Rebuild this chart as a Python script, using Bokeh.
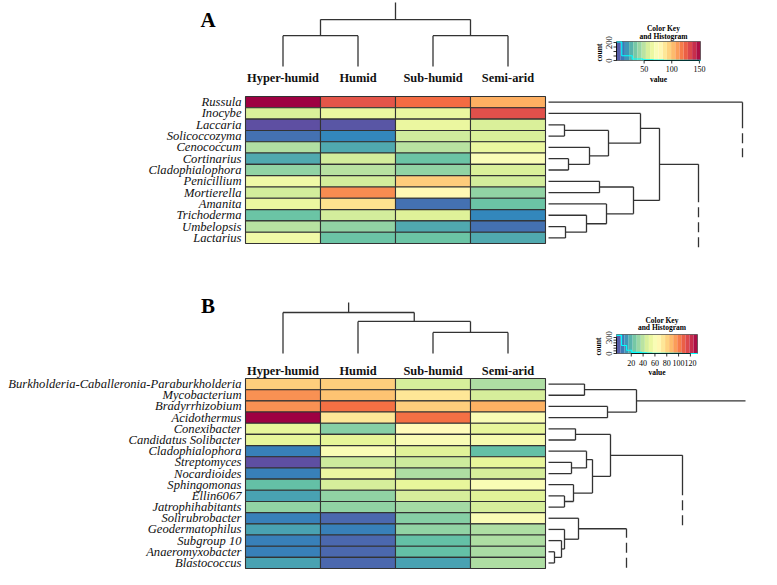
import numpy as np
from bokeh.plotting import figure
from bokeh.models import Range1d, LinearColorMapper, ColumnDataSource
from bokeh.layouts import column
from bokeh.transform import transform
from bokeh.embed import file_html
from bokeh.resources import INLINE
from bokeh.core.properties import value

# ---------------- data ----------------
conditions = ["Hyper-humid", "Humid", "Sub-humid", "Semi-arid"]

fungi_genera = ["Russula", "Inocybe", "Laccaria", "Solicoccozyma", "Cenococcum",
                "Cortinarius", "Cladophialophora", "Penicillium", "Mortierella",
                "Amanita", "Trichoderma", "Umbelopsis", "Lactarius"]
fungi_hyper_humid = [152, 58, 0, 9, 47, 24, 40, 67, 56, 64, 32, 49, 67]
fungi_humid = [129, 64, 2, 15, 24, 56, 49, 56, 114, 90, 56, 40, 32]
fungi_sub_humid = [122, 64, 64, 55, 49, 32, 40, 97, 79, 9, 59, 24, 32]
fungi_semi_arid = [106, 131, 58, 58, 64, 73, 58, 56, 40, 32, 15, 9, 24]
fungi_key_range = (0, 152)
fungi_key_ticks = [50, 100, 150]
fungi_hist_counts = [205, 52, 52, 17, 17, 8, 8, 5, 4, 3, 2, 2, 1, 1, 1, 1]
fungi_count_ticks = [0, 50, 100, 150, 200]
fungi_count_labels = [0, 200]
# row dendrogram merges (child a, child b, height); leaves = display rows
fungi_row_merges = [(2, 3, 1.6), (5, 6, 2.0), (4, 14, 4.1), (13, 15, 6.0),
                    (1, 16, 9.2), (7, 8, 5.1), (11, 12, 1.7), (10, 19, 3.8),
                    (9, 20, 5.8), (18, 21, 8.5), (17, 22, 11.1)]
fungi_row_tails = [(0, 19.4), (23, 15.0)]
fungi_col_merges = [(0, 1, 2.3), (2, 3, 2.3), (4, 5, 3.5)]

bacteria_genera = ["Burkholderia-Caballeronia-Paraburkholderia", "Mycobacterium",
                   "Bradyrrhizobium", "Acidothermus", "Conexibacter",
                   "Candidatus Solibacter", "Cladophialophora", "Streptomyces",
                   "Nocardioides", "Sphingomonas", "Ellin6067", "Jatrophihabitants",
                   "Solirubrobacter", "Geodermatophilus", "Subgroup 10",
                   "Anaeromyxobacter", "Blastococcus"]
bacteria_hyper_humid = [82, 97, 97, 132, 51, 51, 7, -5, 7, 22, 15, 31, 7, 15, 7, 7, 15]
bacteria_humid = [82, 85, 104, 74, 29, 50, 60, 44, 53, 46, 31, 31, 1, 7, 1, 1, 1]
bacteria_sub_humid = [46, 74, 82, 104, 65, 60, 49, 44, 37, 51, 46, 35, 29, 31, 22, 22, 15]
bacteria_semi_arid = [37, 46, 90, 60, 51, 58, 22, 51, 46, 60, 49, 46, 60, 37, 37, 36, 37]
bacteria_key_range = (-5, 132)
bacteria_key_ticks = [20, 40, 60, 80, 100, 120]
bacteria_hist_counts = [340, 150, 60, 22, 22, 12, 8, 6, 5, 4, 3, 2, 2, 1, 1, 1]
bacteria_count_ticks = [0, 50, 100, 150, 200, 250, 300]
bacteria_count_labels = [0, 300]
bacteria_row_merges = [(0, 1, 3.6), (2, 3, 5.9), (17, 18, 8.8), (4, 5, 2.7),
                       (7, 8, 2.3), (6, 21, 3.8), (10, 11, 1.6), (9, 23, 2.5),
                       (22, 24, 4.4), (20, 25, 6.2), (15, 16, 0.6), (14, 27, 1.3),
                       (13, 28, 1.6), (12, 29, 3.0)]
bacteria_row_tails = [(19, 19.7), (26, 13.4), (30, 7.8)]
bacteria_col_merges = [(2, 3, 1.57), (1, 4, 2.39), (0, 5, 3.06)]

# ---------------- style / layout ----------------
SERIF = "Liberation Serif"
LINE = "#333333"
SPECTRAL = ["#5E4FA2", "#3288BD", "#66C2A5", "#ABDDA4", "#E6F598", "#FFFFBF",
            "#FEE08B", "#FDAE61", "#F46D43", "#D53E4F", "#9E0142"]
FIG_W = 761
WIN_L, WIN_R = 0, 761
HM_LEFT, COL_W = 245, 75
RD_X0, RD_PX = 548, 10.0
CD_PX = 13.4
KEY_X0 = 616

GEOM_A = dict(top=0, bot=267, hm_top=96, row_h=11.31, col_leaf_y=66, stem_px=17,
              letter_x=207.5, letter_base=19.5, collab_base=77.5,
              key_x1=700, bar_top=41, bar_bot=60, count_px=0.09,
              title_y=(28, 36), tick_y=68, value_y=79, count_lab_x=608, count_title=(599, 52),
              tails=[(26, 5, 24), (38, 5, 41)])
GEOM_B = dict(top=267, bot=569, hm_top=378, row_h=11.18, col_leaf_y=353, stem_px=10,
              letter_x=207.5, letter_base=305, collab_base=370.5,
              key_x1=697, bar_top=334, bar_bot=353, count_px=16.0 / 300,
              title_y=(320, 327), tick_y=362, value_y=372, count_lab_x=608, count_title=(598, 346),
              tails=[(0, 0, 0), (40, 5, 25), (9, 5, 25)])


def lerp_palette(stops, n):
    rgb = np.array([[int(c[i:i + 2], 16) for i in (1, 3, 5)] for c in stops], float)
    pos = np.linspace(0, 1, len(stops))
    out = []
    for t in np.linspace(0, 1, n):
        r = [np.interp(t, pos, rgb[:, k]) for k in range(3)]
        out.append("#%02x%02x%02x" % tuple(int(round(v)) for v in r))
    return out


PALETTE = lerp_palette(SPECTRAL, 256)


def dendro(n, merges, leaf_pos):
    pos = list(leaf_pos)
    hgt = [0.0] * n
    h0, p0, h1, p1 = [], [], [], []
    for a, b, h in merges:
        for c in (a, b):
            h0.append(hgt[c]); p0.append(pos[c]); h1.append(h); p1.append(pos[c])
        h0.append(h); p0.append(pos[a]); h1.append(h); p1.append(pos[b])
        pos.append((pos[a] + pos[b]) / 2.0)
        hgt.append(h)
    return (h0, p0, h1, p1), pos, hgt


def panel(letter, genera, series, key_range, key_ticks, hist_counts, count_ticks,
          count_labels, row_merges, row_tails, col_merges, g):
    top, bot = g["top"], g["bot"]
    rh, hm_top = g["row_h"], g["hm_top"]
    lo, hi = key_range
    s = (g["key_x1"] - KEY_X0) / (hi - lo)
    cpx = g["count_px"]

    p = figure(width=FIG_W, height=bot - top,
               x_range=Range1d((WIN_L - HM_LEFT) / COL_W, (WIN_R - HM_LEFT) / COL_W),
               y_range=Range1d((bot - hm_top) / rh, (top - hm_top) / rh),
               output_backend="svg", toolbar_location=None, min_border=0,
               x_axis_location=None, y_axis_location=None)
    p.outline_line_color = None
    p.grid.grid_line_color = None
    p.background_fill_color = "white"
    p.border_fill_color = "white"
    p.extra_x_ranges = {
        "px": Range1d(WIN_L, WIN_R),
        "rdh": Range1d((WIN_L - RD_X0) / RD_PX, (WIN_R - RD_X0) / RD_PX),
        "kv": Range1d(lo + (WIN_L - KEY_X0) / s, lo + (WIN_R - KEY_X0) / s),
    }
    leaf_y = g["col_leaf_y"]
    p.extra_y_ranges = {
        "py": Range1d(bot, top),
        "cdh": Range1d((leaf_y - bot) / CD_PX, (leaf_y - top) / CD_PX),
        "kc": Range1d((g["bar_bot"] - bot) / cpx, (g["bar_bot"] - top) / cpx),
    }

    mapper = LinearColorMapper(palette=PALETTE, low=lo, high=hi)

    # heatmap cells
    n = len(genera)
    L, R, T, B, V = [], [], [], [], []
    for j, ser in enumerate(series):
        for i, v in enumerate(ser):
            L.append(j); R.append(j + 1); T.append(i); B.append(i + 1); V.append(v)
    src = ColumnDataSource(dict(l=L, r=R, t=T, b=B, v=V))
    p.quad(left="l", right="r", top="t", bottom="b", source=src,
           fill_color=transform("v", mapper), line_color=LINE, line_width=1.1)

    # row labels
    p.text(x=[0] * n, y=[i + 0.5 for i in range(n)], text=genera, x_offset=-4,
           text_align="right", text_baseline="middle", text_font=value(SERIF),
           text_font_style="italic", text_font_size="12.6px", text_color="#111111")
    # column labels
    p.text(x=[j + 0.5 for j in range(len(conditions))], y=[g["collab_base"]] * len(conditions),
           y_range_name="py", text=conditions, text_align="center",
           text_baseline="alphabetic", text_font=value(SERIF), text_font_style="bold",
           text_font_size="12.4px", text_color="#111111")
    # panel letter
    p.text(x=[g["letter_x"]], y=[g["letter_base"]], x_range_name="px", y_range_name="py",
           text=[letter], text_align="center", text_baseline="alphabetic",
           text_font=value(SERIF), text_font_style="bold", text_font_size="21px",
           text_color="black")

    # row dendrogram
    (h0, p0, h1, p1), pos, hgt = dendro(n, row_merges, [i + 0.5 for i in range(n)])
    p.segment(x0=h0, y0=p0, x1=h1, y1=p1, x_range_name="rdh", line_color=LINE, line_width=1.3)
    for (node, th), (solid, gap, dash) in zip(row_tails, g["tails"]):
        y = pos[node]
        p.segment(x0=[hgt[node]], y0=[y], x1=[th], y1=[y], x_range_name="rdh",
                  line_color=LINE, line_width=1.3)
        if solid > 0:
            p.segment(x0=[th], y0=[y], x1=[th], y1=[y + solid / rh], x_range_name="rdh",
                      line_color=LINE, line_width=1.3)
        if dash > 0:
            p.segment(x0=[th], y0=[y + (solid + gap) / rh], x1=[th],
                      y1=[y + (solid + gap + dash) / rh], x_range_name="rdh",
                      line_color=LINE, line_width=1.3, line_dash="10 5")

    # column dendrogram
    m = len(conditions)
    (h0, p0, h1, p1), cpos, chgt = dendro(m, col_merges, [j + 0.5 for j in range(m)])
    p.segment(x0=p0, y0=h0, x1=p1, y1=h1, y_range_name="cdh", line_color=LINE, line_width=1.3)
    root = len(cpos) - 1
    p.segment(x0=[cpos[root]], y0=[chgt[root]], x1=[cpos[root]],
              y1=[chgt[root] + g["stem_px"] / CD_PX], y_range_name="cdh",
              line_color=LINE, line_width=1.3)

    # colour key
    ctop = (g["bar_bot"] - g["bar_top"]) / cpx
    nb = 20
    edges = np.linspace(lo, hi, nb + 1)
    ksrc = ColumnDataSource(dict(l=edges[:-1], r=edges[1:], mid=(edges[:-1] + edges[1:]) / 2))
    p.quad(left="l", right="r", bottom=0, top=ctop, source=ksrc,
           fill_color=transform("mid", mapper), line_color=None,
           x_range_name="kv", y_range_name="kc")
    p.quad(left=[lo], right=[hi], bottom=[0], top=[ctop], fill_color=None,
           line_color="#444444", line_width=0.7, x_range_name="kv", y_range_name="kc")
    # histogram (step)
    hb = np.linspace(lo, hi, len(hist_counts) + 1)
    hx, hy = [], []
    for k, c in enumerate(hist_counts):
        hx += [hb[k], hb[k + 1]]
        hy += [c, c]
    p.line(hx, hy, x_range_name="kv", y_range_name="kc", line_color="cyan", line_width=1.1)
    # count axis
    tick_len = 3.0 / s
    p.segment(x0=[lo], y0=[count_ticks[0]], x1=[lo], y1=[count_ticks[-1]],
              x_range_name="kv", y_range_name="kc", line_color="black", line_width=0.8)
    p.segment(x0=[lo] * len(count_ticks), y0=count_ticks,
              x1=[lo - tick_len] * len(count_ticks), y1=count_ticks,
              x_range_name="kv", y_range_name="kc", line_color="black", line_width=0.8)
    p.text(x=[g["count_lab_x"]] * len(count_labels), y=count_labels,
           text=[str(c) for c in count_labels], x_range_name="px", y_range_name="kc",
           angle=np.pi / 2, text_align="center", text_baseline="middle",
           text_font=value(SERIF), text_font_size="8.5px", text_color="black")
    p.text(x=[g["count_title"][0]], y=[g["count_title"][1]], text=["count"],
           x_range_name="px", y_range_name="py", angle=np.pi / 2, text_align="center",
           text_baseline="middle", text_font=value(SERIF), text_font_style="bold",
           text_font_size="7.5px", text_color="black")
    # value axis
    vt = key_ticks
    p.segment(x0=[vt[0]], y0=[g["bar_bot"]], x1=[vt[-1]], y1=[g["bar_bot"]],
              x_range_name="kv", y_range_name="py", line_color="black", line_width=0.8)
    p.segment(x0=vt, y0=[g["bar_bot"]] * len(vt), x1=vt, y1=[g["bar_bot"] + 3] * len(vt),
              x_range_name="kv", y_range_name="py", line_color="black", line_width=0.8)
    p.text(x=vt, y=[g["tick_y"]] * len(vt), text=[str(v) for v in vt],
           x_range_name="kv", y_range_name="py", text_align="center", text_baseline="middle",
           text_font=value(SERIF), text_font_size="8px", text_color="black")
    kmid = (lo + hi) / 2.0
    p.text(x=[kmid], y=[g["value_y"]], text=["value"], x_range_name="kv", y_range_name="py",
           text_align="center", text_baseline="middle", text_font=value(SERIF),
           text_font_style="bold", text_font_size="7.5px", text_color="black")
    p.text(x=[kmid, kmid], y=list(g["title_y"]), text=["Color Key", "and Histogram"],
           x_offset=5, x_range_name="kv", y_range_name="py", text_align="center",
           text_baseline="middle", text_font=value(SERIF), text_font_style="bold",
           text_font_size="7.5px", text_color="black")
    return p


pA = panel("A", fungi_genera,
           [fungi_hyper_humid, fungi_humid, fungi_sub_humid, fungi_semi_arid],
           fungi_key_range, fungi_key_ticks, fungi_hist_counts, fungi_count_ticks,
           fungi_count_labels, fungi_row_merges, fungi_row_tails, fungi_col_merges, GEOM_A)
pB = panel("B", bacteria_genera,
           [bacteria_hyper_humid, bacteria_humid, bacteria_sub_humid, bacteria_semi_arid],
           bacteria_key_range, bacteria_key_ticks, bacteria_hist_counts, bacteria_count_ticks,
           bacteria_count_labels, bacteria_row_merges, bacteria_row_tails, bacteria_col_merges, GEOM_B)

layout = column(pA, pB, spacing=0)
open("out.html", "w").write(file_html(layout, INLINE))
